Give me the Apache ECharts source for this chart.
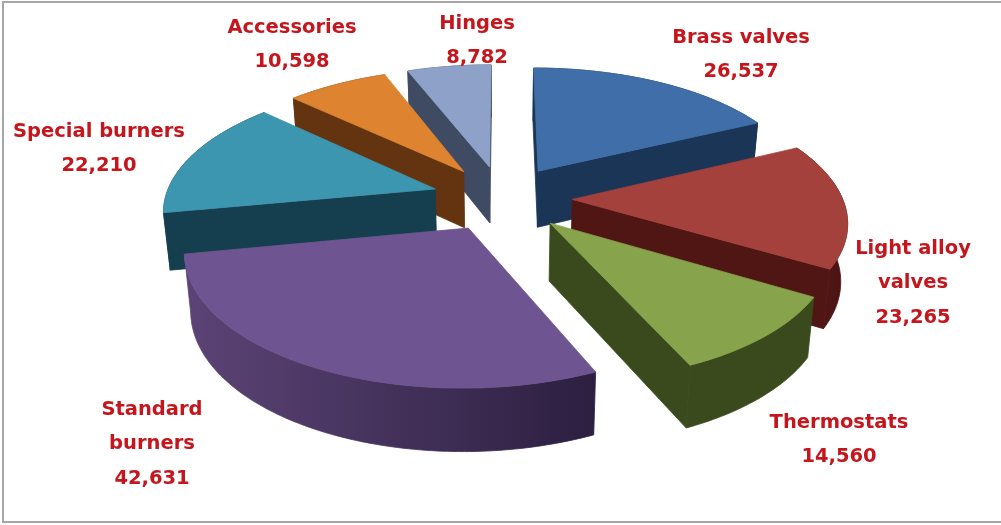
<!DOCTYPE html>
<html>
<head>
<meta charset="utf-8">
<style>
  html, body { margin: 0; padding: 0; background: #fff; }
  #chart { width: 1001px; height: 525px; }
</style>
<script src="https://cdn.jsdelivr.net/npm/echarts@6/dist/echarts.min.js"></script>
</head>
<body>
<div id="chart"></div>
<script>
// Sales by product family, clockwise from twelve o'clock.
const categories = ['Brass valves', 'Light alloy\nvalves', 'Thermostats', 'Standard\nburners',
                    'Special burners', 'Accessories', 'Hinges'];
const values = [26537, 23265, 14560, 42631, 22210, 10598, 8782];

const topColors = ['#3f6ea8', '#a5413d', '#87a34b', '#6e5490', '#3d96b0', '#de8431', '#8ea2c9'];
const sideColors = ['#1b3557', '#4f1614', '#3a4a1c', '#4a3562', '#153f4e', '#63340f', '#3f4b63'];
const wallFrom = ['#1b3557', '#551816', '#3a4a1c', '#5c4476', '#1a4a5a', '#63340f', '#3f4b63'];
const wallTo = ['#1b3557', '#4a1412', '#3a4a1c', '#2c1f40', '#153f4e', '#63340f', '#3f4b63'];
// Back-to-front painting order of the exploded slices.
const paintOrder = [6, 5, 0, 4, 1, 2, 3];
// Centre of each label block, in pixels.
const labelAnchors = [[741, 55], [913, 283], [839, 440], [152, 444], [99, 149], [292, 45], [477, 41]];

// Camera: plane radius on screen, perspective strength, slice thickness, explosion.
const CX = 502, CY = 198, RX = 270, RY = 126, PERSP = 0.15, DEPTH = 57, EXPLODE = 0.26, BASE_SHRINK = 0.98;

const total = values.reduce((a, b) => a + b, 0);
const startAngle = [];
values.reduce((acc, v, i) => { startAngle[i] = acc; return acc + v / total * 360; }, 0);

function project(u, v) {
  const s = 1 / (1 - PERSP * v);
  const x = CX + RX * u * s;
  const y = CY + RY * v * s;
  return {
    top: [x, y],
    bottom: [CX + (x - CX) * BASE_SHRINK, y + DEPTH * (1 + s) / 2]
  };
}

function sliceShapes(index) {
  const a0 = startAngle[index];
  const sweep = values[index] / total * 360;
  const rad = Math.PI / 180;
  const mid = (a0 + sweep / 2) * rad;
  const eu = EXPLODE * Math.sin(mid), ev = -EXPLODE * Math.cos(mid);
  const apex = project(eu, ev);
  const arc = [];
  const steps = Math.max(8, Math.ceil(sweep));
  for (let k = 0; k <= steps; k++) {
    const t = (a0 + sweep * k / steps) * rad;
    arc.push(project(eu + Math.sin(t), ev - Math.cos(t)));
  }
  const first = arc[0], last = arc[arc.length - 1];
  const children = [];
  const face = (points, fill) => children.push({
    type: 'polygon',
    shape: { points },
    style: { fill, stroke: fill, lineWidth: 0.8, lineJoin: 'round' }
  });

  // Outer wall first, then whichever cut faces turn towards the viewer, then the top.
  const wallPoints = arc.map(p => p.top).concat(arc.slice().reverse().map(p => p.bottom));
  face(wallPoints,
       new echarts.graphic.LinearGradient(0, 0, 1, 0, [
         { offset: 0, color: wallFrom[index] },
         { offset: 1, color: wallTo[index] }
       ]));
  if (first.top[0] < apex.top[0]) {
    face([apex.top, first.top, first.bottom, apex.bottom], sideColors[index]);
  }
  if (apex.top[0] < last.top[0]) {
    face([last.top, apex.top, apex.bottom, last.bottom], sideColors[index]);
  }
  face([apex.top].concat(arc.map(p => p.top)), topColors[index]);
  return children;
}

const chart = echarts.init(document.getElementById('chart'), null, { renderer: 'canvas' });
chart.setOption({
  animation: false,
  backgroundColor: '#ffffff',
  graphic: [{
    type: 'rect',
    silent: true,
    shape: { x: 3, y: 2, width: 1010, height: 520 },
    style: { fill: 'transparent', stroke: '#a6a6a6', lineWidth: 2 }
  }],
  series: [{
    type: 'custom',
    coordinateSystem: 'none',
    silent: true,
    data: paintOrder.map(i => [i, values[i]]),
    renderItem: (params, api) => ({
      type: 'group',
      children: sliceShapes(api.value(0))
    })
  }, {
    type: 'custom',
    coordinateSystem: 'none',
    silent: true,
    z: 5,
    data: values.map((v, i) => [i, v]),
    renderItem: (params, api) => {
      const i = api.value(0);
      return {
        type: 'text',
        style: {
          x: labelAnchors[i][0],
          y: labelAnchors[i][1],
          text: categories[i] + '\n' + api.value(1).toLocaleString('en-US'),
          fill: '#c4161c',
          font: 'bold 19.5px "DejaVu Sans"',
          lineHeight: 34.5,
          align: 'center',
          verticalAlign: 'middle'
        }
      };
    }
  }]
});
</script>
</body>
</html>
